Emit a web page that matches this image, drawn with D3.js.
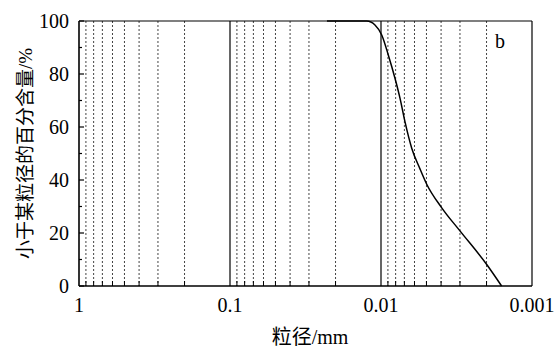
<!DOCTYPE html>
<html>
<head>
<meta charset="utf-8">
<script src="https://cdn.jsdelivr.net/npm/d3@7"></script>
<style>
  body { margin: 0; background: #fff; }
  text { font-family: "Liberation Serif", "Noto Sans CJK SC", serif; fill: #000; }
</style>
</head>
<body>
<div id="chart"></div>
<script>
// particle size (mm) vs percent finer
const sizes = [0.0228, 0.01244, 0.01096, 0.00989, 0.00895, 0.00808, 0.00748, 0.00694, 0.00626, 0.00552, 0.00498, 0.00396, 0.0030, 0.0020, 0.00159];
const percents = [100, 100, 98.5, 94.7, 87.2, 78.4, 70.8, 62.0, 52.0, 44.2, 38.4, 29.5, 20.8, 8.2, 0];
const xTicks = [1, 0.1, 0.01, 0.001];
const yTicks = [0, 20, 40, 60, 80, 100];
const yMinorTicks = [10, 30, 50, 70, 90];

const width = 555, height = 347;
const plotLeft = 79, plotRight = 532, plotTop = 21, plotBottom = 286;

const svg = d3.select("#chart").append("svg")
  .attr("width", width)
  .attr("height", height);

const x = d3.scaleLog().domain([1, 0.001]).range([plotLeft, plotRight]);
const y = d3.scaleLinear().domain([0, 100]).range([plotBottom, plotTop]);

// minor grid: 2..9 in each decade
const minor = [];
[1, 0.1, 0.01].forEach((d) => {
  for (let k = 2; k <= 9; k++) minor.push(d * k / 10);
});

svg.append("g").selectAll("line").data(minor).enter()
  .append("line")
  .attr("x1", (d) => x(d)).attr("x2", (d) => x(d))
  .attr("y1", plotTop).attr("y2", plotBottom)
  .attr("stroke", "#444")
  .attr("stroke-width", 1)
  .attr("stroke-dasharray", "2,2");

// short ticks on bottom axis at minor positions
svg.append("g").selectAll("line").data(minor).enter()
  .append("line")
  .attr("x1", (d) => x(d)).attr("x2", (d) => x(d))
  .attr("y1", plotBottom).attr("y2", plotBottom - 5)
  .attr("stroke", "#000");

// decade lines
svg.append("g").selectAll("line").data([0.1, 0.01]).enter()
  .append("line")
  .attr("x1", (d) => x(d)).attr("x2", (d) => x(d))
  .attr("y1", plotTop).attr("y2", plotBottom)
  .attr("stroke", "#000")
  .attr("stroke-width", 1.2);

// frame
svg.append("line").attr("x1", plotLeft).attr("x2", plotRight).attr("y1", plotTop).attr("y2", plotTop)
  .attr("stroke", "#000").attr("stroke-width", 1.2);
svg.append("line").attr("x1", plotRight).attr("x2", plotRight).attr("y1", plotTop).attr("y2", plotBottom)
  .attr("stroke", "#000").attr("stroke-width", 1.2);
svg.append("line").attr("x1", plotLeft).attr("x2", plotLeft).attr("y1", plotTop).attr("y2", plotBottom)
  .attr("stroke", "#000").attr("stroke-width", 1.6);
svg.append("line").attr("x1", plotLeft).attr("x2", plotRight).attr("y1", plotBottom).attr("y2", plotBottom)
  .attr("stroke", "#000").attr("stroke-width", 1.6);

// y ticks (inward)
svg.append("g").selectAll("line").data(yTicks).enter()
  .append("line")
  .attr("x1", plotLeft).attr("x2", plotLeft + 5)
  .attr("y1", (d) => y(d)).attr("y2", (d) => y(d))
  .attr("stroke", "#000").attr("stroke-width", 1.2);
svg.append("g").selectAll("line").data(yMinorTicks).enter()
  .append("line")
  .attr("x1", plotLeft).attr("x2", plotLeft + 3)
  .attr("y1", (d) => y(d)).attr("y2", (d) => y(d))
  .attr("stroke", "#000").attr("stroke-width", 1.2);

svg.append("g").selectAll("text").data(yTicks).enter()
  .append("text")
  .attr("x", plotLeft - 10)
  .attr("y", (d) => y(d) + 7)
  .attr("text-anchor", "end")
  .attr("font-size", 20)
  .text((d) => d);

svg.append("g").selectAll("text").data(xTicks).enter()
  .append("text")
  .attr("x", (d) => x(d))
  .attr("y", 312)
  .attr("text-anchor", "middle")
  .attr("font-size", 20)
  .text((d) => d);

// curve
const pts = sizes.map((s, i) => [x(s), y(percents[i])]);
svg.append("path")
  .attr("d", d3.line().curve(d3.curveMonotoneX)(pts))
  .attr("fill", "none")
  .attr("stroke", "#000")
  .attr("stroke-width", 1.5);

svg.append("text")
  .attr("x", 500).attr("y", 48)
  .attr("text-anchor", "middle")
  .attr("font-size", 20)
  .text("b");

// axis titles
svg.append("text")
  .attr("x", 310).attr("y", 344)
  .attr("text-anchor", "middle")
  .attr("font-size", 20)
  .text("粒径/mm");

svg.append("text")
  .attr("transform", "translate(32," + ((plotTop + plotBottom) / 2) + ") rotate(-90)")
  .attr("text-anchor", "middle")
  .attr("font-size", 19)
  .text("小于某粒径的百分含量/%");
</script>
</body>
</html>
